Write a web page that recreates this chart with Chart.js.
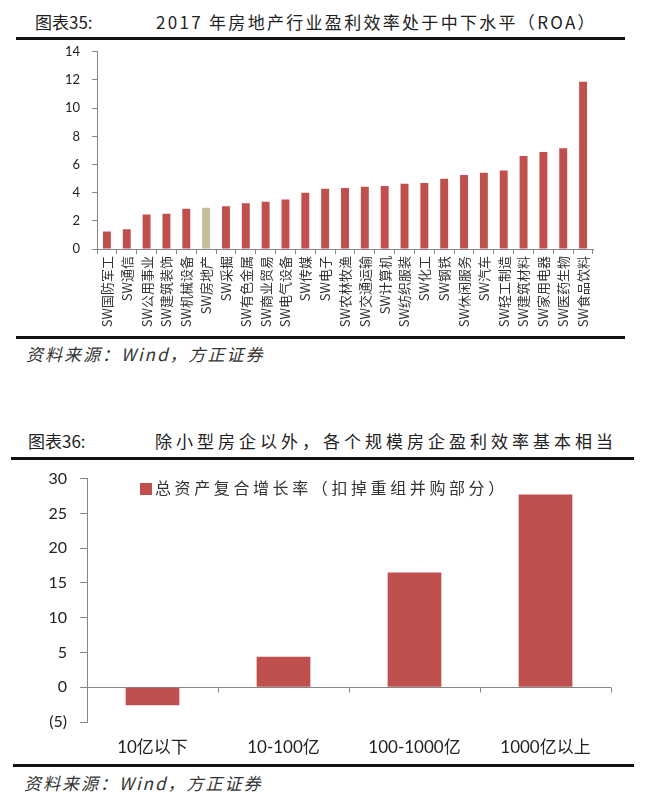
<!DOCTYPE html>
<html>
<head>
<meta charset="utf-8">
<script src="https://cdn.jsdelivr.net/npm/chart.js@4.4.1/dist/chart.umd.min.js"></script>
<style>
  body { margin: 0; width: 650px; height: 806px; background: #fff; position: relative; overflow: hidden;
         font-family: "Noto Sans CJK SC", sans-serif; color: #222; }
  .t { position: absolute; font-size: 17px; line-height: 22px; white-space: nowrap; }
  .rule { position: absolute; height: 3px; background: #111; }
  .src { position: absolute; font-size: 17px; line-height: 20px; letter-spacing: 2px; font-style: italic; color: #333; white-space: nowrap; }
  .box { position: absolute; }
  .legend { position: absolute; left: 140px; top: 476px; font-size: 16px; line-height: 22px; letter-spacing: 3.6px; white-space: nowrap; color: #333; }
  .legend span { display: inline-block; width: 12px; height: 12px; background: #C0504D; margin-right: 3px; vertical-align: -1px; }
</style>
</head>
<body>

<div class="t" style="left:35px;top:11px;">图表35:</div>
<div class="t" style="left:156px;top:11px;letter-spacing:2.3px;">2017 年房地产行业盈利效率处于中下水平（ROA）</div>
<div class="rule" style="left:16px;width:609px;top:37px;"></div>
<div class="box" style="left:20px;top:32px;width:600px;height:303px;"><canvas id="roaChart"></canvas></div>
<div class="rule" style="left:16px;width:609px;top:336px;"></div>
<div class="src" style="left:26px;top:344px;">资料来源：Wind，方正证券</div>

<div class="t" style="left:28px;top:430px;">图表36:</div>
<div class="t" style="left:155px;top:430px;letter-spacing:4px;">除小型房企以外，各个规模房企盈利效率基本相当</div>
<div class="rule" style="left:11px;width:623px;top:457px;"></div>
<div class="box" style="left:10px;top:456px;width:630px;height:310px;"><canvas id="sizeChart"></canvas></div>
<div class="legend"><span></span>总资产复合增长率（扣掉重组并购部分）</div>
<div class="rule" style="left:13px;width:621px;top:764px;"></div>
<div class="src" style="left:24px;top:773px;">资料来源：Wind，方正证券</div>

<script>
// chart 1: 2017 ROA by SW industry
const industries = ["SW国防军工", "SW通信", "SW公用事业", "SW建筑装饰", "SW机械设备", "SW房地产", "SW采掘",
  "SW有色金属", "SW商业贸易", "SW电气设备", "SW传媒", "SW电子", "SW农林牧渔", "SW交通运输", "SW计算机",
  "SW纺织服装", "SW化工", "SW钢铁", "SW休闲服务", "SW汽车", "SW轻工制造", "SW建筑材料", "SW家用电器",
  "SW医药生物", "SW食品饮料"];
const roaValues = [1.25, 1.4, 2.45, 2.5, 2.85, 2.93, 3.03, 3.24, 3.36, 3.52, 4.0, 4.28, 4.33, 4.42, 4.47,
  4.63, 4.68, 4.99, 5.25, 5.41, 5.58, 6.6, 6.88, 7.16, 11.87];
const roaTicks = [0, 2, 4, 6, 8, 10, 12, 14];

// chart 2: asset growth by company size
const sizeGroups = ["10亿以下", "10-100亿", "100-1000亿", "1000亿以上"];
const growthValues = [-2.6, 4.4, 16.5, 27.7];
const growthTicks = [-5, 0, 5, 10, 15, 20, 25, 30];
const growthLabel = "总资产复合增长率（扣掉重组并购部分）";

const RED = "#C0504D";
const TAN = "#C4BD97";
const AXIS = "#868686";

Chart.defaults.font.family = 'Lato, "Noto Sans CJK SC", sans-serif';
Chart.defaults.color = "#222";
Chart.defaults.animation = false;

document.addEventListener("DOMContentLoaded", function () {
  new Chart(document.getElementById("roaChart"), {
    type: "bar",
    data: {
      labels: industries,
      datasets: [{
        data: roaValues,
        backgroundColor: industries.map(n => n === "SW房地产" ? TAN : RED),
        barPercentage: 0.4,
        categoryPercentage: 1
      }]
    },
    options: {
      responsive: true,
      maintainAspectRatio: false,
      layout: { padding: { top: 0, right: 27, left: 0, bottom: 0 } },
      plugins: { legend: { display: false }, tooltip: { enabled: false } },
      scales: {
        x: {
          grid: { drawOnChartArea: false, drawTicks: true, tickLength: 5, color: AXIS, offset: true },
          border: { color: AXIS },
          ticks: { minRotation: 90, maxRotation: 90, autoSkip: false, padding: 2,
                   font: { size: 13, family: '"Noto Sans CJK SC", sans-serif' }, color: "#333" },
          afterFit: s => { s.height = 86; }
        },
        y: {
          min: 0, max: 14,
          grid: { drawOnChartArea: false, drawTicks: true, tickLength: 5, color: AXIS },
          border: { color: AXIS },
          afterBuildTicks: s => { s.ticks = roaTicks.map(v => ({ value: v })); },
          ticks: { padding: 12, font: { size: 13 }, color: "#222" },
          afterFit: s => { s.width = 77; }
        }
      }
    }
  });

  // zero line with category tick marks, Excel style
  const zeroAxis = {
    id: "zeroAxis",
    beforeDatasetsDraw(chart) {
      const x = chart.scales.x, y = chart.scales.y, ctx = chart.ctx;
      const y0 = Math.round(y.getPixelForValue(0)) + 0.5;
      const half = (x.getPixelForValue(1) - x.getPixelForValue(0)) / 2;
      ctx.save();
      ctx.strokeStyle = AXIS;
      ctx.lineWidth = 1;
      ctx.beginPath();
      ctx.moveTo(x.left, y0);
      ctx.lineTo(x.right, y0);
      for (let i = 0; i < sizeGroups.length; i++) {
        const bx = Math.round(x.getPixelForValue(i) + half) + 0.5;
        ctx.moveTo(bx, y0);
        ctx.lineTo(bx, y0 + 5);
      }
      ctx.stroke();
      ctx.restore();
    }
  };

  new Chart(document.getElementById("sizeChart"), {
    type: "bar",
    data: {
      labels: sizeGroups,
      datasets: [{
        label: growthLabel,
        data: growthValues,
        backgroundColor: RED,
        barPercentage: 0.41,
        categoryPercentage: 1
      }]
    },
    options: {
      responsive: true,
      maintainAspectRatio: false,
      layout: { padding: { top: 0, right: 29, left: 0, bottom: 0 } },
      plugins: { legend: { display: false }, tooltip: { enabled: false } },
      scales: {
        x: {
          grid: { display: false, drawTicks: false },
          border: { display: false },
          ticks: { padding: 15, font: { size: 17, family: 'Lato, "Noto Sans CJK SC", sans-serif' }, color: "#222" },
          afterFit: s => { s.height = 44; }
        },
        y: {
          min: -5, max: 30,
          grid: { drawOnChartArea: false, drawTicks: true, tickLength: 7, color: AXIS },
          border: { color: AXIS },
          afterBuildTicks: s => { s.ticks = growthTicks.map(v => ({ value: v })); },
          ticks: { padding: 13, font: { size: 16 }, color: "#222",
                   callback: v => v < 0 ? "(" + (-v) + ")" : v },
          afterFit: s => { s.width = 77; }
        }
      }
    },
    plugins: [zeroAxis]
  });
});
</script>
</body>
</html>
